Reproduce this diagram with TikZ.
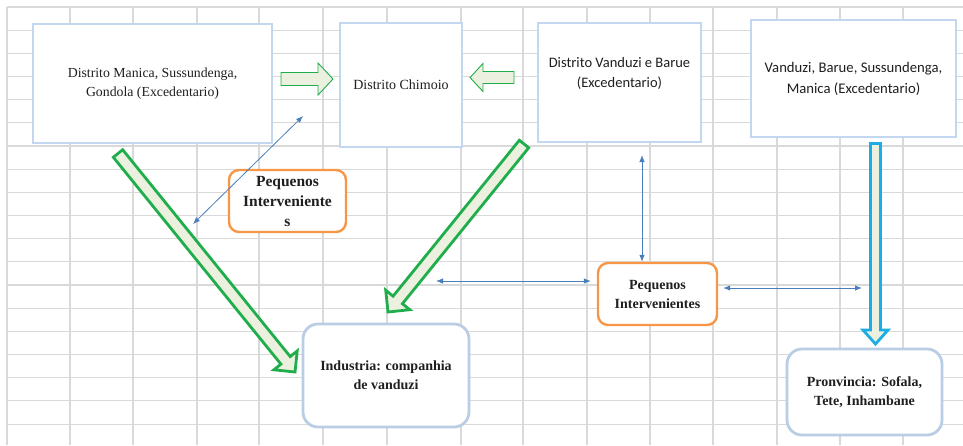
\documentclass[tikz,border=0pt]{standalone}
\usepackage{fontspec}
\setmainfont{Liberation Serif}
\newfontfamily\calibri{Carlito}
\usetikzlibrary{calc,arrows.meta}

\definecolor{gridgray}{HTML}{D9D9D9}
\definecolor{boxblue}{HTML}{C3D7F0}
\definecolor{roundblue}{HTML}{B9CDE5}
\definecolor{orangeline}{HTML}{F79646}
\definecolor{greenline}{HTML}{1FAE4B}
\definecolor{greenfill}{HTML}{EBF1DE}
\definecolor{cyanline}{HTML}{1CADE4}
\definecolor{linkblue}{HTML}{4A7EBB}
\definecolor{textgray}{HTML}{1F1F1F}

% block arrow: style, tail, tip, shaft half width, head half width, head length
\newcommand{\blockarrow}[6]{%
  \coordinate (ba-base) at ($(#3)!#6!(#2)$);
  \draw[#1] ($(#2)!#4!90:(#3)$) -- ($(ba-base)!#4!90:(#3)$) -- ($(ba-base)!#5!90:(#3)$)
    -- (#3) -- ($(ba-base)!#5!-90:(#3)$) -- ($(ba-base)!#4!-90:(#3)$) -- ($(#2)!#4!-90:(#3)$) -- cycle;
}

\begin{document}
\begin{tikzpicture}[x=1pt, y=-1pt]
  \tikzstyle{gridline} = [draw=gridgray, line width=1.1pt]
  \tikzstyle{bluebox} = [draw=boxblue, line width=2.8pt, fill=white, rectangle, align=center, inner sep=2pt, text=textgray]
  \tikzstyle{roundbox} = [draw=roundblue, line width=2.8pt, fill=white, rounded corners=15pt, align=center, inner sep=2pt, text=textgray]
  \tikzstyle{orangebox} = [draw=orangeline, line width=2.4pt, fill=white, rounded corners=10pt, align=center, inner sep=2pt, text=textgray]
  \tikzstyle{thinarrow} = [draw=greenline, line width=0.9pt, fill=greenfill]
  \tikzstyle{fatarrow} = [draw=greenline, line width=2.8pt, fill=greenfill]
  \tikzstyle{cyanarrow} = [draw=cyanline, line width=2.8pt, fill=greenfill]
  \tikzstyle{link} = [draw=linkblue, line width=0.8pt, <->, >={Latex[length=7pt,width=5.5pt]}]
  \useasboundingbox (0,0) rectangle (963,445);

  % grid
  \foreach \k in {0,...,18}
    \draw[gridline] (7,{7+23.17*\k}) -- (963,{7+23.17*\k});
  \foreach \gx in {7,70,133,197,259,323,387,461,523,587,650,713,777,840,903}
    \draw[gridline] (\gx,7) -- (\gx,445);

  % boxes
  \node[bluebox, minimum width=239, minimum height=119, font=\fontsize{13.8}{19}\selectfont] (manica) at (152.5,83.5) {Distrito Manica, Sussundenga,\\Gondola (Excedentario)};
  \node[bluebox, minimum width=122, minimum height=124, font=\fontsize{14}{19}\selectfont] (chimoio) at (401,85) {Distrito Chimoio};
  \node[bluebox, minimum width=163, minimum height=119] (vanduzi) at (619.5,82.5) {};
  \node[font=\calibri\fontsize{14.5}{20}\selectfont, align=center, text=textgray] (vanduzi-text) at (619.5,73) {Distrito Vanduzi e Barue\\(Excedentario)};
  \node[bluebox, minimum width=205, minimum height=117, font=\calibri\fontsize{14.7}{21}\selectfont] (varios) at (853.5,78.5) {Vanduzi, Barue, Sussundenga,\\Manica (Excedentario)};
  \node[orangebox, minimum width=117, minimum height=62, font=\bfseries\fontsize{15.5}{20}\selectfont] (pequenos1) at (287.5,201) {Pequenos\\Interveniente\\s};
  \node[orangebox, minimum width=119, minimum height=62, font=\bfseries\fontsize{14}{19}\selectfont] (pequenos2) at (657.5,294) {Pequenos\\Intervenientes};
  \node[roundbox, minimum width=166, minimum height=103, font=\bfseries\fontsize{14}{19}\selectfont] (industria) at (386,375.5) {Industria: companhia\\de vanduzi};
  \node[roundbox, minimum width=155, minimum height=86, font=\bfseries\fontsize{14}{19}\selectfont] (provincia) at (864.5,392) {Pronvincia: Sofala,\\Tete, Inhambane};

  % block arrows
  \coordinate (manica-out) at (281,79);
  \coordinate (chimoio-in1) at (333,79);
  \coordinate (vanduzi-out) at (514,77.5);
  \coordinate (chimoio-in2) at (470,77.5);
  \coordinate (manica-tail) at (118,153.5);
  \coordinate (industria-in1) at (295,372);
  \coordinate (chimoio-tail) at (524,144);
  \coordinate (industria-in2) at (388,312);
  \coordinate (varios-tail) at (875.5,143.5);
  \coordinate (provincia-in) at (875.5,344);
  \blockarrow{thinarrow}{manica-out}{chimoio-in1}{6.5pt}{16pt}{15pt}
  \blockarrow{thinarrow}{vanduzi-out}{chimoio-in2}{6pt}{14pt}{13pt}
  \blockarrow{fatarrow}{manica-tail}{industria-in1}{6pt}{15pt}{15pt}
  \blockarrow{fatarrow}{chimoio-tail}{industria-in2}{6pt}{15.5pt}{15.5pt}
  \blockarrow{cyanarrow}{varios-tail}{provincia-in}{5pt}{12.5pt}{14pt}

  % thin links
  \coordinate (manica-corner) at (193,224);
  \coordinate (chimoio-corner) at (303,116);
  \coordinate (vanduzi-below) at (642,155);
  \coordinate (industria-side) at (436,281);
  \coordinate (provincia-side) at (862,288);
  \draw[link] (manica-corner) -- (chimoio-corner);
  \draw[link] (vanduzi-below) -- (vanduzi-below |- pequenos2.north);
  \draw[link, shorten >=6pt] (industria-side) -- (industria-side -| pequenos2.west);
  \draw[link, shorten <=5pt] (pequenos2.east |- provincia-side) -- (provincia-side);
\end{tikzpicture}
\end{document}
